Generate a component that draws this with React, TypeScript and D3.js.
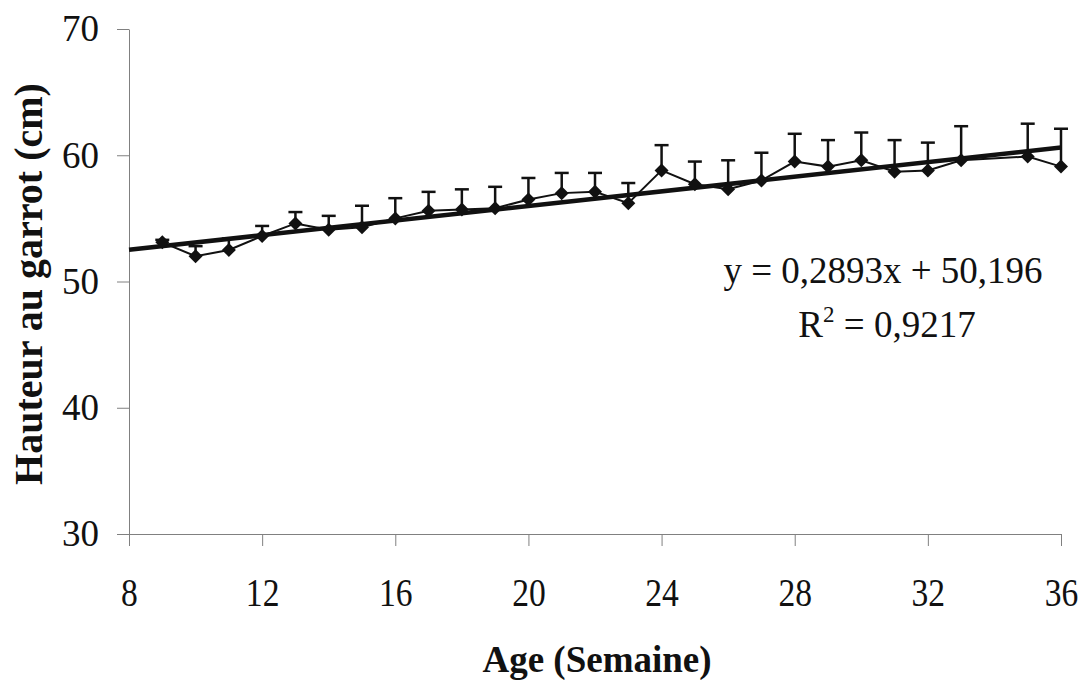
import { useEffect, useRef } from "react"
import * as d3 from "d3"

// semaines mesurées (pas de mesure à 34)
const weeks = [9, 10, 11, 12, 13, 14, 15, 16, 17, 18, 19, 20, 21, 22, 23, 24, 25, 26, 27, 28, 29, 30, 31, 32, 33, 35, 36]
// hauteur moyenne au garrot (cm)
const heights = [53.1, 52.0, 52.5, 53.6, 54.6, 54.1, 54.3, 55.0, 55.6, 55.7, 55.8, 56.5, 57.0, 57.1, 56.2, 58.8, 57.7, 57.3, 58.0, 59.5, 59.1, 59.6, 58.7, 58.8, 59.6, 59.9, 59.1]
// écart-type (barre vers le haut seulement)
const sds = [0.2, 0.8, 0.9, 0.8, 0.9, 1.1, 1.7, 1.6, 1.5, 1.6, 1.7, 1.7, 1.6, 1.5, 1.6, 2.0, 1.8, 2.3, 2.2, 2.2, 2.1, 2.2, 2.5, 2.2, 2.7, 2.6, 3.0]
const xTicks = [8, 12, 16, 20, 24, 28, 32, 36]
const yTicks = [30, 40, 50, 60, 70]
const slope = 0.2893
const intercept = 50.196
const eqLine1 = "y = 0,2893x + 50,196"
const r2Value = " = 0,9217"

const W = 1085, H = 680
const margin = { top: 29, right: 24, bottom: 146, left: 129 }
const FONT = "Liberation Serif, Times New Roman, serif"

const App = () => {
    const ref = useRef<SVGSVGElement | null>(null)

    useEffect(() => {
        const svg = d3.select(ref.current)
        svg.selectAll("*").remove()

        const x = d3.scaleLinear().domain([8, 36]).range([margin.left, W - margin.right])
        const y = d3.scaleLinear().domain([30, 70]).range([H - margin.bottom, margin.top])
        const data = weeks.map((w, i) => ({ w, v: heights[i], sd: sds[i] }))

        // axes
        const yAxis = svg.append("g")
            .attr("transform", `translate(${margin.left},0)`)
            .call(d3.axisLeft(y).tickValues(yTicks).tickSizeInner(12).tickSizeOuter(0).tickPadding(18))
        const xAxis = svg.append("g")
            .attr("transform", `translate(0,${H - margin.bottom})`)
            .call(d3.axisBottom(x).tickValues(xTicks).tickSizeInner(12).tickSizeOuter(0))
        for (const ax of [xAxis, yAxis]) {
            ax.attr("font-family", null).attr("font-size", null)
            ax.select(".domain").attr("stroke", "#808080").attr("stroke-width", 1)
            ax.selectAll(".tick line").attr("stroke", "#808080").attr("stroke-width", 1)
            ax.selectAll(".tick text")
                .attr("fill", "#111")
                .attr("font-family", FONT)
        }
        yAxis.selectAll(".tick text").attr("font-size", 37)
        // les chiffres de l'axe x sont un peu étroits dans l'original
        xAxis.selectAll(".tick text")
            .attr("font-size", 40)
            .attr("y", 72)
            .attr("dy", null)
            .attr("transform", "scale(0.84,1)")

        // courbe des moyennes
        svg.append("path")
            .datum(data)
            .attr("fill", "none")
            .attr("stroke", "#111")
            .attr("stroke-width", 2)
            .attr("d", d3.line<any>().x(d => x(d.w)).y(d => y(d.v)))

        // barres d'erreur
        const eb = svg.append("g").attr("stroke", "#111").attr("stroke-width", 2.5)
        eb.selectAll("line.v")
            .data(data)
            .enter()
            .append("line")
            .attr("x1", d => x(d.w)).attr("x2", d => x(d.w))
            .attr("y1", d => y(d.v)).attr("y2", d => y(d.v + d.sd))
        eb.selectAll("line.cap")
            .data(data)
            .enter()
            .append("line")
            .attr("x1", d => x(d.w) - 7).attr("x2", d => x(d.w) + 7)
            .attr("y1", d => y(d.v + d.sd)).attr("y2", d => y(d.v + d.sd))

        // droite de régression
        svg.append("line")
            .attr("x1", x(8)).attr("y1", y(slope * 8 + intercept))
            .attr("x2", x(36)).attr("y2", y(slope * 36 + intercept))
            .attr("stroke", "#111")
            .attr("stroke-width", 4.5)

        // marqueurs losange
        svg.selectAll("path.dot")
            .data(data)
            .enter()
            .append("path")
            .attr("fill", "#111")
            .attr("transform", d => `translate(${x(d.w)},${y(d.v)})`)
            .attr("d", "M0,-7L7,0L0,7L-7,0Z")

        // équation
        svg.append("text")
            .attr("x", 883).attr("y", 283)
            .attr("text-anchor", "middle")
            .attr("font-family", FONT).attr("font-size", 37).attr("fill", "#111")
            .text(eqLine1)
        const r2 = svg.append("text")
            .attr("x", 887).attr("y", 337)
            .attr("text-anchor", "middle")
            .attr("font-family", FONT).attr("font-size", 37).attr("fill", "#111")
        r2.append("tspan").text("R")
        r2.append("tspan").attr("dy", -15).attr("font-size", 23).text("2")
        r2.append("tspan").attr("dy", 15).text(r2Value)

        // titres des axes
        svg.append("text")
            .attr("transform", "translate(42,284) rotate(-90)")
            .attr("text-anchor", "middle")
            .attr("font-family", FONT).attr("font-size", 40).attr("font-weight", "bold").attr("fill", "#111")
            .text("Hauteur au garrot (cm)")
        svg.append("text")
            .attr("x", 597).attr("y", 672)
            .attr("text-anchor", "middle")
            .attr("font-family", FONT).attr("font-size", 37).attr("font-weight", "bold").attr("fill", "#111")
            .text("Age (Semaine)")
    }, [])

    return (
        <svg ref={ref} width={W} height={H}
            style={{ position: "absolute", left: 0, top: 0, background: "#fff" }} />
    )
}

export default App
